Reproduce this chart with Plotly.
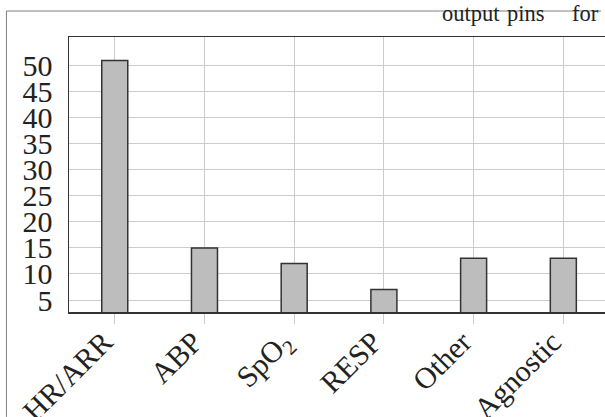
import plotly.graph_objects as go

categories = ["HR/ARR", "ABP", "SpO<sub>2</sub>", "RESP", "Other", "Agnostic"]
counts = [51, 15, 12, 7, 13, 13]
y_ticks = [5, 10, 15, 20, 25, 30, 35, 40, 45, 50]

W, H = 605, 417
L, R, T, B = 69.3, 609, 36.7, 312
pw, ph = R - L, B - T

def px(x):
    return (x - L) / pw

def py(y):
    return (B - y) / ph

fig = go.Figure()
fig.add_trace(go.Bar(
    x=categories, y=counts,
    width=0.29,
    marker=dict(color="#bdbdbd", line=dict(color="#333333", width=1.5)),
))

serif = "Liberation Serif, Times New Roman, serif"

fig.update_layout(
    width=W, height=H,
    margin=dict(l=L, r=0, t=T, b=H - B, pad=0, autoexpand=False),
    paper_bgcolor="white", plot_bgcolor="white",
    showlegend=False,
    font=dict(family=serif, size=30, color="#222222"),
    xaxis=dict(
        type="category", range=[-0.51, (R - 4 - 115) / 89.67], automargin=False,
        showgrid=True, gridcolor="#cccccc", gridwidth=1,
        showline=True, linecolor="#333333", linewidth=1.5, mirror=True,
        ticks="outside", ticklen=10, tickcolor="#cccccc", tickwidth=1,
        tickangle=-45, tickfont=dict(family=serif, size=30, color="#222222"),
        ticklabelshift=-11, ticklabelstandoff=-11,
        zeroline=False,
    ),
    yaxis=dict(
        range=[2.7, 55.5], tickvals=y_ticks, automargin=False,
        showgrid=True, gridcolor="#cccccc", gridwidth=1,
        showline=True, linecolor="#333333", linewidth=1.5, mirror=False,
        ticks="outside", ticklen=9, tickcolor="rgba(0,0,0,0)",
        tickfont=dict(family=serif, size=30, color="#222222"),
        zeroline=False,
    ),
    shapes=[
        dict(type="line", xref="paper", yref="paper",
             x0=px(6.3), x1=px(605), y0=py(10.7), y1=py(10.7),
             line=dict(color="#808080", width=1)),
        dict(type="line", xref="paper", yref="paper",
             x0=px(6.3), x1=px(6.3), y0=py(10.7), y1=py(417),
             line=dict(color="#808080", width=1)),
    ],
)

for word, x0 in [("output", 443), ("pins", 508), ("for", 574)]:
    fig.add_annotation(
        text=word, xref="paper", yref="paper",
        x=px(x0), y=py(22.7), xanchor="left", yanchor="bottom",
        showarrow=False, yshift=-5,
        font=dict(family=serif, size=22.5, color="#222222"),
    )

fig.write_html(
    "out.html",
    config={"displayModeBar": False, "staticPlot": True},
    post_script="document.body.style.margin='0';document.body.style.overflow='hidden';",
)
